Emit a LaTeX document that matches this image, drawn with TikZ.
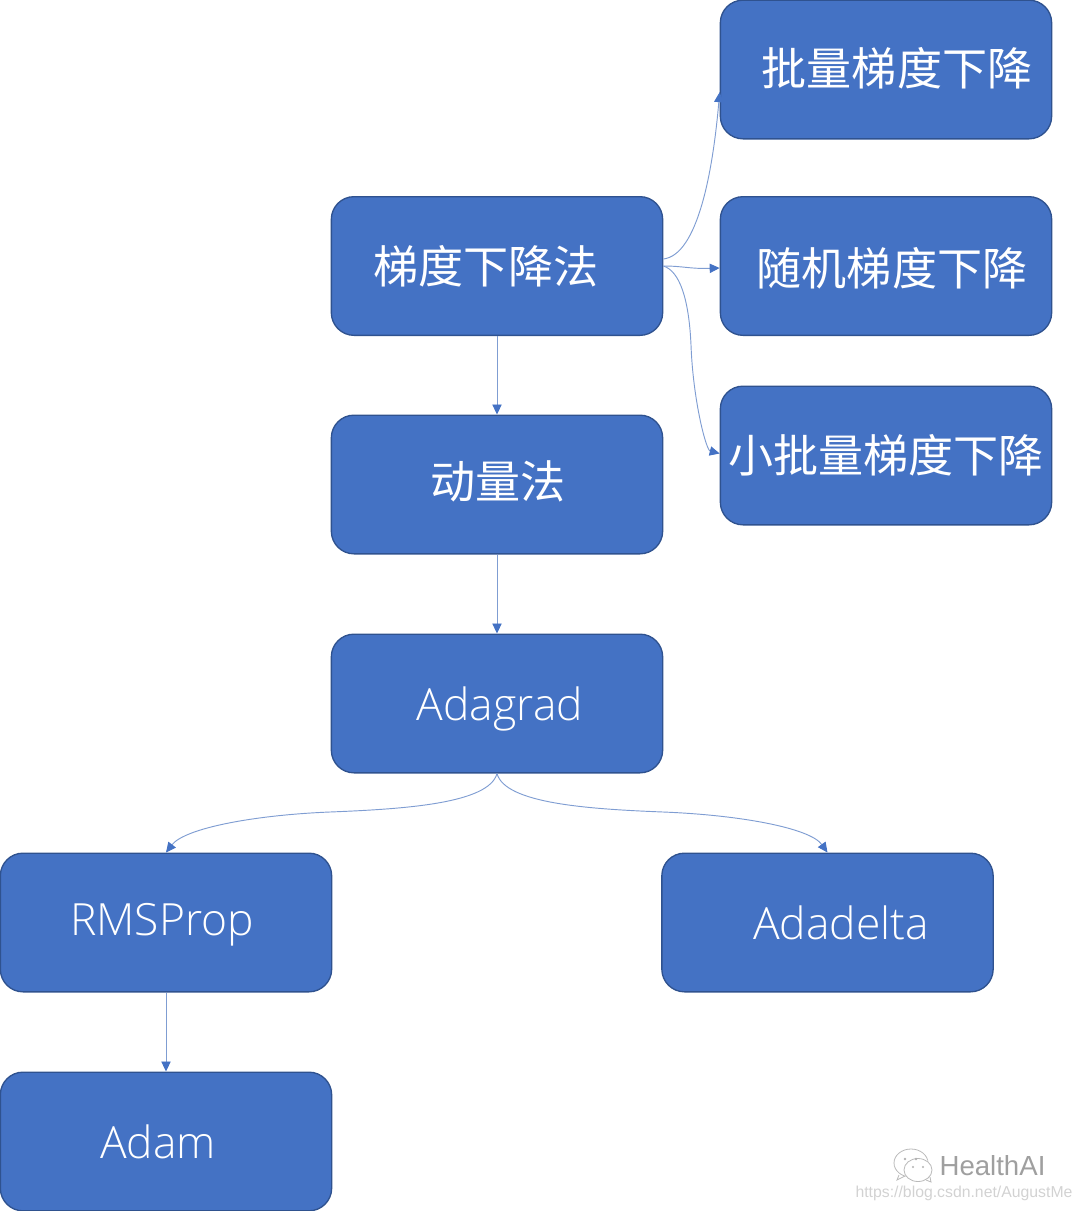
\documentclass[tikz,border=0pt]{standalone}
\usepackage{fontspec}
\setmainfont{Open Sans Light}
\newfontfamily\cjk{Noto Sans CJK SC}
\newfontfamily\wm{Liberation Sans}
\usetikzlibrary{arrows.meta}
\definecolor{boxfill}{HTML}{4472C4}
\definecolor{boxline}{HTML}{2F528F}
\definecolor{conn}{HTML}{7F9DD2}
\definecolor{tipcol}{HTML}{4472C4}
\tikzset{
  flowbox/.style={draw=boxline,line width=1pt,fill=boxfill,rounded corners=17pt,minimum width=248.5pt,minimum height=104pt,inner sep=0pt,anchor=center},
  zh/.style={text=white,font=\cjk\fontsize{33.8}{36}\selectfont,inner sep=0pt,anchor=center},
  en/.style={text=white,font=\fontsize{33.3}{36}\selectfont,inner sep=0pt,anchor=center},
  link/.style={draw=conn,line width=0.7pt,-{Triangle[length=7.5pt,width=7pt,color=tipcol,fill=tipcol]}},
  wmtext/.style={inner sep=0pt,anchor=center}
}
\begin{document}
\begin{tikzpicture}[x=0.75pt,y=-0.75pt]
\useasboundingbox (0,0) rectangle (1080,1211);
\node[flowbox] (batch) at (886,69.5) {};
\node[flowbox] (sgd) at (886,266) {};
\node[flowbox] (mini) at (886,455.5) {};
\node[flowbox] (gd) at (497,266) {};
\node[flowbox] (mom) at (497,484.5) {};
\node[flowbox] (ada) at (497,703.5) {};
\node[flowbox] (rms) at (166,922.5) {};
\node[flowbox] (delta) at (827.5,922.5) {};
\node[flowbox] (adam) at (166,1141.5) {};
\node[zh] (batchT) at (897,68) {批量梯度下降};
\node[zh] (sgdT) at (892,268) {随机梯度下降};
\node[zh] (miniT) at (886,455) {小批量梯度下降};
\node[zh] (gdT) at (486,266) {梯度下降法};
\node[zh] (momT) at (498,481) {动量法};
\node[en] (adaT) at (500,709) {Adagrad};
\node[en] (rmsT) at (162,925) {RMSProp};
\node[en] (deltaT) at (841,923) {Adadelta};
\node[en] (adamT) at (158,1142) {Adam};
\draw[link] (gd.south) -- (mom.north);
\draw[link] (mom.south) -- (ada.north);
\draw[link] (rms.south) -- (adam.north);
\draw[link] ([yshift=5.25pt]gd.east) .. controls (698,255) and (713,170) .. ([yshift=-17pt]batch.west);
\draw[link] (gd.east) .. controls +(20,0) and +(-30,1) .. ([yshift=-1.5pt]sgd.west);
\draw[link] (gd.east) .. controls (680,271) and (689,300) .. (691,345) .. controls (693,400) and (706,450) .. ([yshift=1.5pt]mini.west);
\draw[link] (ada.south) .. controls +(-8,30) and +(75,-3) .. (330,812) .. controls (255,815) and (185,828) .. (rms.north);
\draw[link] (ada.south) .. controls +(8,30) and +(-75,-3) .. (663,812) .. controls (740,815) and (810,828) .. (delta.north);
% watermark
\begin{scope}[draw=gray!55,line width=0.6pt]
\draw (911,1163) ellipse [x radius=17,y radius=14];
\fill[white] (918,1170) ellipse [x radius=15,y radius=12];
\draw (918,1170) ellipse [x radius=14,y radius=11.5];
\draw (899,1175) -- (897,1180) -- (905,1176);
\draw (926,1180) -- (931,1182) -- (930,1177);
\fill[gray!60] (905,1159) circle (1.4) (916,1159) circle (1.4) (913,1167) circle (1.2) (923,1167) circle (1.2);
\end{scope}
\node[wmtext,text=gray!75,font=\wm\fontsize{20.7}{22}\selectfont] (wmA) at (992.5,1166) {HealthAI};
\node[wmtext,text=gray!35,font=\wm\fontsize{11.85}{15}\selectfont] (wmB) at (964,1193) {https://blog.csdn.net/AugustMe};
\end{tikzpicture}
\end{document}
